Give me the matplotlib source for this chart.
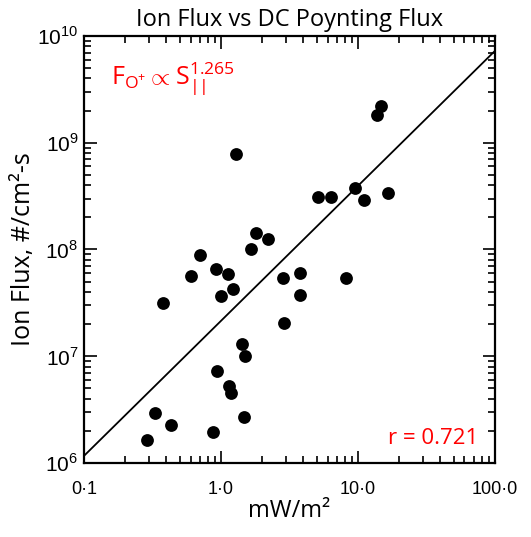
import numpy as np
import matplotlib
matplotlib.use("Agg")
import matplotlib.pyplot as plt
from matplotlib.ticker import LogLocator, FixedLocator, FixedFormatter, NullFormatter

plt.rcParams["mathtext.fontset"] = "custom"
plt.rcParams["mathtext.rm"] = "Liberation Sans"
plt.rcParams["mathtext.sf"] = "Open Sans"

# Poynting flux (mW/m^2) and ion flux (#/cm^2-s)
s_par = [0.29, 0.33, 0.43, 0.875, 0.377, 0.61, 0.70, 0.92, 1.0, 1.12,
         1.22, 1.66, 1.8, 2.2, 1.29, 1.42, 1.5, 0.935, 1.14, 1.18,
         1.47, 2.84, 3.78, 3.75, 2.88, 8.17, 5.13, 6.35, 9.5, 11.1,
         16.5, 13.7, 14.7]
ion_flux = [1.64e6, 2.94e6, 2.27e6, 1.95e6, 3.16e7, 5.6e7, 8.9e7, 6.6e7, 3.7e7, 5.9e7,
            4.3e7, 1.0e8, 1.43e8, 1.26e8, 7.85e8, 1.3e7, 1.0e7, 7.25e6, 5.2e6, 4.5e6,
            2.7e6, 5.4e7, 6.0e7, 3.75e7, 2.05e7, 5.4e7, 3.1e8, 3.1e8, 3.8e8, 2.9e8,
            3.4e8, 1.82e9, 2.21e9]

slope = 1.265
log_a = 7.33
r_val = 0.721

x_ticks = [0.1, 1.0, 10.0, 100.0]
x_labels = ["0\u00b71", "1\u00b70", "10\u00b70", "100\u00b70"]
y_ticks = [1e6, 1e7, 1e8, 1e9, 1e10]
y_labels = [r"$10^{6}$", r"$10^{7}$", r"$10^{8}$", r"$10^{9}$", r"$10^{10}$"]

fig = plt.figure(figsize=(5.31, 5.37), dpi=100)
ax = fig.add_axes([0.158, 0.138, 0.774, 0.795])

ax.scatter(s_par, ion_flux, s=85, color="black", zorder=3, linewidths=0)

xl = np.array([0.1, 100.0])
ax.plot(xl, 10**log_a * xl**slope, color="black", lw=1.3)

ax.set_xscale("log")
ax.set_yscale("log")
ax.set_xlim(0.1, 100)
ax.set_ylim(1e6, 1e10)

ax.xaxis.set_major_locator(FixedLocator(x_ticks))
ax.xaxis.set_major_formatter(FixedFormatter(x_labels))
ax.yaxis.set_major_locator(FixedLocator(y_ticks))
ax.yaxis.set_major_formatter(FixedFormatter(y_labels))
ax.xaxis.set_minor_locator(LogLocator(base=10, subs=np.arange(2, 10)))
ax.yaxis.set_minor_locator(LogLocator(base=10, subs=np.arange(2, 10)))
ax.xaxis.set_minor_formatter(NullFormatter())
ax.yaxis.set_minor_formatter(NullFormatter())

ax.tick_params(which="both", direction="in", top=True, right=True, width=1.2, colors="black")
ax.tick_params(which="major", length=9)
ax.tick_params(which="minor", length=5)
ax.tick_params(axis="x", which="major", pad=13, labelsize=13)
ax.tick_params(axis="y", which="major", pad=4, labelsize=15)
for lab in ax.get_xticklabels():
    lab.set_family("Liberation Sans")
for sp in ax.spines.values():
    sp.set_linewidth(1.6)

ax.set_title("Ion Flux vs DC Poynting Flux", fontsize=17, family="Open Sans", pad=7)
ax.set_xlabel("mW/m\u00b2", fontsize=17, family="Open Sans", labelpad=1)
ax.set_ylabel("Ion Flux, #/cm\u00b2-s", fontsize=18, family="Open Sans", labelpad=1)

ax.text(0.065, 0.885, r"$\mathsf{F_{O^{+}}\propto S_{||}^{1.265}}$", transform=ax.transAxes,
        color="red", fontsize=18, va="baseline")
ax.text(0.96, 0.045, "r = 0.721", transform=ax.transAxes, color="red",
        fontsize=16, family="Open Sans", ha="right", va="baseline")

fig.savefig("out.png", dpi=100)
